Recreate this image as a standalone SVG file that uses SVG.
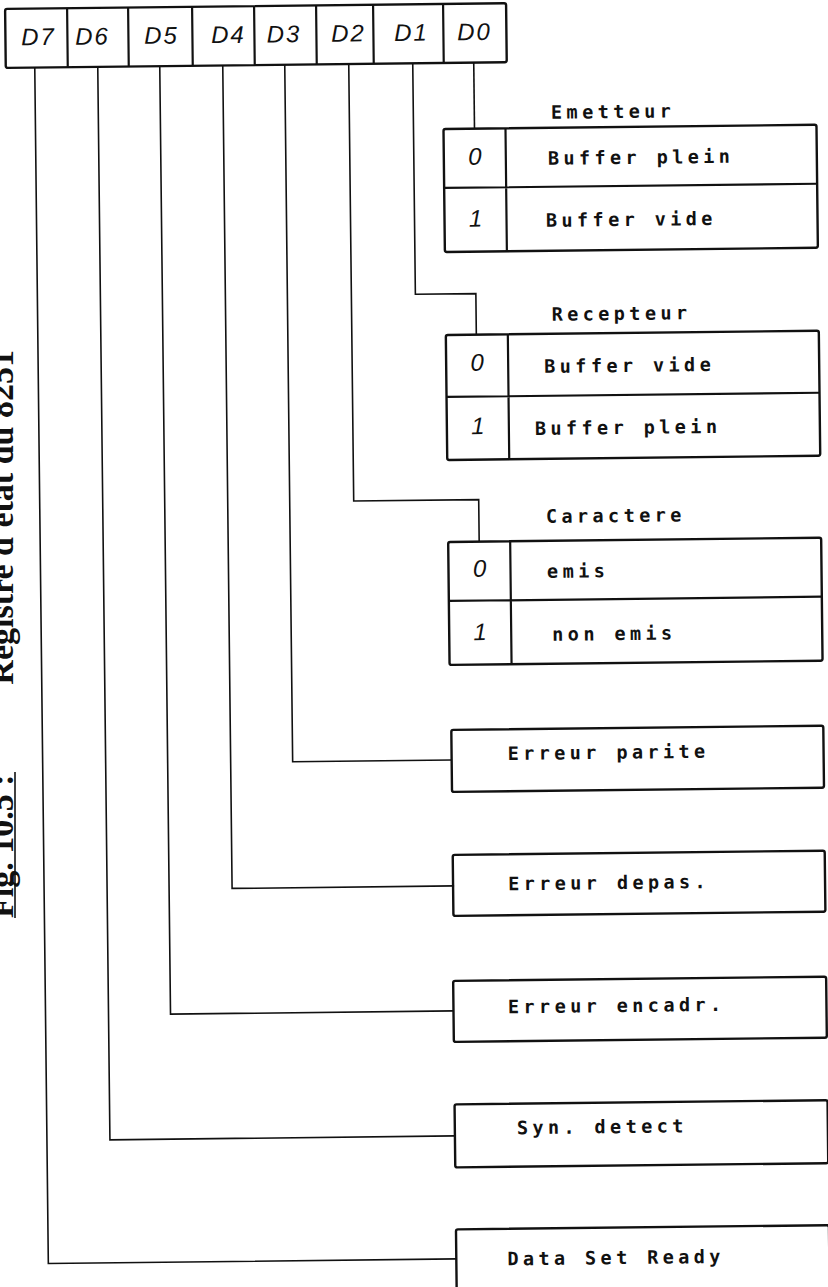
<svg xmlns="http://www.w3.org/2000/svg" width="828" height="1287" viewBox="0 0 828 1287">
<style>
.bg{fill:#fff}
.box{fill:none;stroke:#111;stroke-width:2.4;stroke-linejoin:round}
.div{fill:none;stroke:#111;stroke-width:2.2}
.conn{fill:none;stroke:#111;stroke-width:1.6}
.t{font-family:"DejaVu Sans Mono",monospace;font-size:18.5px;font-weight:bold;letter-spacing:4.4px;fill:#111}
.d{font-family:"Liberation Sans",Arial,sans-serif;font-style:italic;font-size:24px;letter-spacing:2px;fill:#111;text-anchor:middle}
.n{font-family:"Liberation Sans",Arial,sans-serif;font-style:italic;font-size:24px;fill:#111;text-anchor:middle}
.cap{font-family:"Liberation Serif","Times New Roman",serif;font-weight:bold;font-size:34px;fill:#111}
</style>
<rect class="bg" x="0" y="0" width="828" height="1287"/>
<g id="caption">
<text class="cap" transform="translate(12.5,918) rotate(-90)">Fig. 10.5 :</text>
<text class="cap" transform="translate(12.5,350) rotate(-90)" text-anchor="end">Registre d'état du 8251</text>
<line x1="15" y1="772" x2="15" y2="918" stroke="#111" stroke-width="1.6"/>
</g>
<g transform="rotate(-0.65)">
<g id="register">
<rect class="box" x="5" y="9" width="501" height="59" rx="2"/>
<path class="div" d="M67 9V68M128 9V68M192 9V68M254 9V68M316 9V68M373 9V68M443 9V68"/>
<text class="d" x="38" y="45.5">D7</text>
<text class="d" x="92" y="45.5">D6</text>
<text class="d" x="161" y="45.5">D5</text>
<text class="d" x="228" y="45.5">D4</text>
<text class="d" x="283.5" y="45.5">D3</text>
<text class="d" x="348" y="45.5">D2</text>
<text class="d" x="411" y="45.5">D1</text>
<text class="d" x="474" y="45.5">D0</text>
</g>
<g id="connectors">
<path class="conn" d="M473 68V134"/>
<path class="conn" d="M412 68V299H472.5V340"/>
<path class="conn" d="M348 68V505H473V547"/>
<path class="conn" d="M284 68V765H443"/>
<path class="conn" d="M222 68V891H444"/>
<path class="conn" d="M159 68V1016H442"/>
<path class="conn" d="M97 68V1141H442"/>
<path class="conn" d="M34 68V1264H442"/>
</g>
<g id="emetteur">
<text class="t" x="549.7" y="125">Emetteur</text>
<rect class="box" x="442" y="134" width="373" height="123" rx="2"/>
<path class="div" d="M442 193H815M504 134V257"/>
<text class="n" x="473" y="170">0</text>
<text class="t" x="546" y="171">Buffer plein</text>
<text class="n" x="473" y="232">1</text>
<text class="t" x="543.4" y="233">Buffer vide</text>
</g>
<g id="recepteur">
<text class="t" x="548" y="327">Recepteur</text>
<rect class="box" x="442" y="340" width="373" height="125" rx="2"/>
<path class="div" d="M442 402H815M504 340V465"/>
<text class="n" x="473" y="376">0</text>
<text class="t" x="540" y="379">Buffer vide</text>
<text class="n" x="473" y="439.5">1</text>
<text class="t" x="530" y="441">Buffer plein</text>
</g>
<g id="caractere">
<text class="t" x="540" y="529">Caractere</text>
<rect class="box" x="442" y="547" width="373" height="123" rx="2"/>
<path class="div" d="M442 606H815M504 547V670"/>
<text class="n" x="473" y="582">0</text>
<text class="t" x="540.5" y="584">emis</text>
<text class="n" x="473" y="645.5">1</text>
<text class="t" x="545" y="647">non emis</text>
</g>
<g id="parite">
<rect class="box" x="443" y="735" width="372" height="62" rx="2"/>
<text class="t" x="499" y="765.7">Erreur parite</text>
</g>
<g id="depas">
<rect class="box" x="443" y="860" width="372" height="61" rx="2"/>
<text class="t" x="498" y="896">Erreur depas.</text>
</g>
<g id="encadr">
<rect class="box" x="442" y="986" width="373" height="61" rx="2"/>
<text class="t" x="496.5" y="1019">Erreur encadr.</text>
</g>
<g id="syn">
<rect class="box" x="442" y="1109.5" width="373" height="63" rx="2"/>
<text class="t" x="504" y="1140">Syn. detect</text>
</g>
<g id="dsr">
<rect class="box" x="442" y="1234.5" width="373" height="80" rx="2"/>
<text class="t" x="493" y="1271">Data Set Ready</text>
</g>
</g>
</svg>
